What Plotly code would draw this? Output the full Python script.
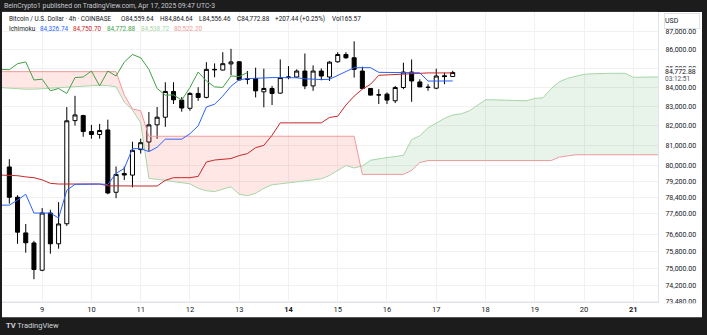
import math
import pandas as pd
import plotly.graph_objects as go

# ---------------- data ----------------
start_time = "2025-04-08 04:00"
n_slots = 81  # 56 candle slots + 25 forward cloud slots
times = pd.date_range(start_time, periods=n_slots, freq="4h")

# candles (4h) from 2025-04-08 08:00 to 2025-04-17 08:00
opens = [79910, 78410, 76680, 76200, 74910, 77640, 76160, 77120, 82260, 82520,
         81700, 81550, 81780, 78655, 79580, 79503, 80780, 81167, 82042, 82435,
         83774, 83323, 82896, 83670, 83463, 84940, 84903, 85230, 85345, 84440,
         84452, 83754, 83930, 83686, 84504, 84535, 84851, 84065, 84851, 84535,
         85345, 85734, 85558, 84851, 83930, 83600, 83634, 83287, 83982, 84798,
         84274, 84000, 83946, 84600, 84559.64]
highs = [80300, 78510, 77110, 76300, 77880, 77800, 78170, 82960, 83546, 82560,
         82040, 82093, 82310, 79933, 79933, 81182, 81333, 82706, 82963, 84258,
         84258, 83479, 83738, 83998, 85325, 85257, 85857, 86037, 85362, 84851,
         85029, 84977, 84065, 85468, 85114, 84940, 85787, 85151, 84993, 85378,
         85857, 85857, 86445, 85082, 83946, 83894, 83722, 84065, 85293, 85468,
         84415, 84154, 84977, 84767, 84864.64]
lows = [78100, 76160, 75736, 74490, 74865, 75690, 75925, 77015, 82007, 81434,
        81333, 81333, 78557, 78363, 79257, 78898, 80580, 80695, 81333, 81941,
        83117, 82721, 82772, 83287, 83411, 84520, 84888, 84625, 84362, 84154,
        83463, 82947, 83066, 83660, 84415, 84494, 83894, 83806, 84362, 84326,
        85293, 85505, 84504, 83894, 83556, 83117, 83117, 83168, 83894, 83235,
        83998, 83806, 83894, 84154, 84556.46]
closes = [78410, 76715, 76207, 74945, 77640, 76160, 77110, 82250, 82552, 81700,
          81550, 81753, 78620, 79538, 79510, 80745, 81131, 82042, 82435, 83774,
          83339, 82911, 83670, 83463, 84940, 84920, 85241, 85335, 84378, 84420,
          83806, 83930, 83670, 84504, 84535, 84851, 84065, 84851, 84588, 85325,
          85734, 85558, 84940, 83930, 83582, 83590, 83323, 83982, 84798, 84326,
          84014, 83985, 84588, 84560, 84772.88]

# Ichimoku lines
conversion = [78024, 78024, 78266, 78557, 77638, 77638, 77638, 77397, 78752, 79046,
              79061, 79061, 79061, 79040, 79587, 79834, 80830, 80830, 80680, 80900,
              81311, 81311, 81311, 81585, 81991, 82963, 83107, 83530, 84050, 84389,
              84452, 84467, 84494, 84504, 84504, 84504, 84494, 84441, 84415, 84399,
              84415, 84625, 84809, 85030, 85030, 85030, 84782, 84782, 84767, 84767,
              84767, 84756, 84320, 84320, 84320, 84326.74]
base = [79503, 79489, 79474, 79415, 79375, 79267, 79095, 79061, 79061, 79061,
        79061, 79061, 79061, 78973, 78963, 78963, 78963, 78963, 78963, 78963,
        79243, 79375, 79375, 79375, 79439, 80157, 80256, 80281, 80331, 80480,
        80580, 80880, 80995, 81509, 82144, 82144, 82144, 82144, 82144, 82144,
        82424, 82486, 83066, 83530, 83894, 84154, 84625, 84651, 84677, 84703,
        84730, 84750.7, 84750.7, 84750.7, 84750.7, 84750.7]
lagging = [84940, 84920, 85241, 85335, 84378, 84420, 83806, 83930, 83670, 84504,
           84535, 84851, 84065, 84851, 84588, 85325, 85734, 85558, 84940, 83930,
           83582, 83590, 83323, 83982, 84798, 84326, 84014, 83985, 84588, 84560,
           84772.88]
lead_a = [83972, 83946, 83894, 83894, 83894, 83920, 83946, 83972, 83998, 83998,
          84024, 84050, 84102, 84076, 84024, 83220, 82809, 82144, 79341, 79292,
          79242, 79193, 79144, 79070, 78850, 78728, 78689, 78801, 78923, 78557,
          78484, 78606, 78850, 79021, 79070, 79095, 79144, 79193, 79242, 79316,
          79488, 79735, 79983, 79859, 79958, 80246, 80331, 80381, 80430, 80495,
          81283, 81484, 81890, 82144, 82374, 82552, 82603, 82757, 83066, 83339,
          83334, 83323, 83298, 83287, 83287, 83411, 83442, 83920, 84285, 84467,
          84562, 84677, 84703, 84730, 84730, 84730, 84730, 84520, 84535, 84535,
          84538.72]
lead_b = [84819, 84819, 84819, 84819, 84819, 84819, 84819, 84819, 84819, 84819,
          84819, 84819, 84819, 84819, 84819, 83582, 82860, 82773, 81459, 81459,
          81459, 81459, 81459, 81459, 81459, 81459, 81459, 81459, 81459, 81459,
          81459, 81459, 81459, 81459, 81459, 81459, 81459, 81459, 81459, 81459,
          81459, 81459, 81459, 81459, 79538, 79538, 79538, 79538, 79538, 79538,
          79735, 80132, 80231, 80231, 80231, 80231, 80231, 80231, 80231, 80231,
          80231, 80231, 80231, 80231, 80231, 80231, 80231, 80231, 80405, 80455,
          80522.2, 80522.2, 80522.2, 80522.2, 80522.2, 80522.2, 80522.2, 80522.2, 80522.2, 80522.2,
          80522.2]

price_ticks = [87000, 86000, 85000, 84000, 83000, 82000, 81000, 80000, 79200,
               78400, 77600, 76600, 75800, 75000, 74200, 73480]
day_ticks = ["2025-04-%02d" % d for d in range(9, 22)]
day_labels = ["9", "10", "11", "12", "13", "<b>14</b>", "15", "16", "17", "18",
              "19", "20", "<b>21</b>"]

legend_values = ["84,326.74", "84,750.70", "84,772.88", "84,538.72", "80,522.20"]

# ---------------- styling ----------------
W, H = 707, 335
DARK = "#1c1c1c"
TXT = "#131722"
C_CONV = "#2962FF"
C_BASE = "#C62828"
C_LAG = "#43A047"
C_A = "#A5D6A7"
C_B = "#EF9A9A"
FILL_UP = "rgba(67,160,71,0.12)"
FILL_DN = "rgba(244,67,54,0.13)"
FONT = "Roboto"


def fx(p):
    return p / W


def fy(p):
    return 1 - p / H


def with_crossings(xs, a, b):
    X, A, B = [], [], []
    for k in range(len(xs)):
        if k > 0:
            d0 = math.log(a[k - 1]) - math.log(b[k - 1])
            d1 = math.log(a[k]) - math.log(b[k])
            if d0 * d1 < 0:
                t = d0 / (d0 - d1)
                xc = xs[k - 1] + (xs[k] - xs[k - 1]) * t
                la = math.log(a[k - 1]) + (math.log(a[k]) - math.log(a[k - 1])) * t
                X.append(xc)
                A.append(math.exp(la))
                B.append(math.exp(la))
        X.append(xs[k])
        A.append(a[k])
        B.append(b[k])
    return X, A, B


cx, ca, cb = with_crossings(list(times), lead_a, lead_b)
cmax = [max(p, q) for p, q in zip(ca, cb)]

fig = go.Figure()
nl = dict(width=0)
fig.add_trace(go.Scatter(x=cx, y=ca, mode="lines", line=nl, hoverinfo="skip", showlegend=False))
fig.add_trace(go.Scatter(x=cx, y=cmax, mode="lines", line=nl, fill="tonexty", fillcolor=FILL_DN,
                         hoverinfo="skip", showlegend=False))
fig.add_trace(go.Scatter(x=cx, y=cb, mode="lines", line=nl, hoverinfo="skip", showlegend=False))
fig.add_trace(go.Scatter(x=cx, y=cmax, mode="lines", line=nl, fill="tonexty", fillcolor=FILL_UP,
                         hoverinfo="skip", showlegend=False))
fig.add_trace(go.Scatter(x=times, y=lead_a, mode="lines", line=dict(color=C_A, width=1), showlegend=False))
fig.add_trace(go.Scatter(x=times, y=lead_b, mode="lines", line=dict(color=C_B, width=1), showlegend=False))
fig.add_trace(go.Scatter(x=times[:len(base)], y=base, mode="lines", line=dict(color=C_BASE, width=1),
                         showlegend=False))
fig.add_trace(go.Scatter(x=times[:len(conversion)], y=conversion, mode="lines",
                         line=dict(color=C_CONV, width=1), showlegend=False))
fig.add_trace(go.Scatter(x=times[:len(lagging)], y=lagging, mode="lines",
                         line=dict(color=C_LAG, width=1), showlegend=False))
fig.add_trace(go.Candlestick(
    x=times[1:1 + len(opens)], open=opens, high=highs, low=lows, close=closes,
    increasing=dict(fillcolor="#ffffff", line=dict(color="#000000", width=1)),
    decreasing=dict(fillcolor="#000000", line=dict(color="#000000", width=1)),
    whiskerwidth=0, showlegend=False, hoverinfo="skip"))

y_bottom, y_top = 73424, 88049

fig.update_layout(
    width=W, height=H, margin=dict(l=0, r=0, t=0, b=0),
    paper_bgcolor=DARK, plot_bgcolor="#ffffff",
    font=dict(family=FONT, color=TXT),
    hovermode=False, showlegend=False,
    xaxis=dict(
        domain=[fx(2), fx(658)], type="date",
        range=["2025-04-08 04:26", "2025-04-21 12:02"],
        tickvals=day_ticks, ticktext=day_labels, ticks="",
        tickfont=dict(size=7.5, color=TXT, family=FONT),
        showgrid=True, gridcolor="#f1f1f1", gridwidth=1,
        showline=True, linecolor="#e0e3eb", linewidth=1,
        zeroline=False, rangeslider=dict(visible=False), fixedrange=True,
    ),
    yaxis=dict(
        domain=[fy(305), fy(12)], type="log", side="right",
        range=[math.log10(y_bottom), math.log10(y_top)],
        tickvals=price_ticks, tickformat=",.2f", ticks="",
        tickfont=dict(size=7, color=TXT, family=FONT), ticklabelstandoff=5,
        showgrid=True, gridcolor="#f1f1f1", gridwidth=1,
        showline=True, linecolor="#e0e3eb", linewidth=1,
        zeroline=False, fixedrange=True,
    ),
)

shapes = [
    dict(type="rect", xref="paper", yref="paper", x0=fx(2), x1=fx(702), y0=fy(320), y1=fy(12),
         fillcolor="#ffffff", line=dict(width=0), layer="below"),
    dict(type="rect", xref="paper", yref="paper", x0=fx(659), x1=fx(701.5), y0=fy(319.5), y1=fy(306),
         fillcolor="#ffffff", line=dict(width=0), layer="above"),
]
fig.update_layout(shapes=shapes)

ann = []


def text(x, y, s, size=7, color=TXT, **kw):
    d = dict(x=fx(x), y=fy(y), xref="paper", yref="paper", text=s, showarrow=False,
             xanchor="left", yanchor="middle", font=dict(size=size, color=color, family=FONT))
    d.update(kw)
    ann.append(d)


LS = 6.4
text(2, 6, "BeinCrypto1 published on TradingView.com, Apr 17, 2025 09:47 UTC-3", size=6.8, color="#c8cad0")
text(7, 19.3, "Bitcoin / U.S. Dollar · 4h · COINBASE", size=LS)
text(119, 19.3, "O84,559.64", size=LS)
text(157.7, 19.3, "H84,864.64", size=LS)
text(197.3, 19.3, "L84,556.46", size=LS)
text(235, 19.3, "C84,772.88", size=LS)
text(272.7, 19.3, "+207.44 (+0.25%)", size=LS)
text(330, 19.3, "Vol165.57", size=LS)
text(7, 29.3, "Ichimoku", size=LS)
for xpos, val, col in zip([37.7, 71.3, 104.7, 138.7, 172], legend_values,
                          [C_CONV, C_BASE, C_LAG, C_A, C_B]):
    text(xpos, 29.3, val, size=LS, color=col)

# price scale currency box
ann.append(dict(x=fx(663.5), y=fy(13.5), xref="paper", yref="paper", text="USD", showarrow=False,
                xanchor="left", yanchor="top", align="left", width=34, height=14,
                bgcolor="#ffffff", bordercolor="#e0e3eb", borderwidth=1, borderpad=0,
                font=dict(size=7, color=TXT, family=FONT)))
# last price label + countdown
ann.append(dict(x=fx(664), y=fy(73.0), xref="paper", yref="paper", text="84,772.88", showarrow=False,
                xanchor="left", yanchor="middle", bgcolor="#ffffff", borderpad=0,
                font=dict(size=7, color=TXT, family=FONT)))
ann.append(dict(x=fx(664), y=fy(80.0), xref="paper", yref="paper", text="03:12:51", showarrow=False,
                xanchor="left", yanchor="middle", bgcolor="#ffffff", borderpad=0,
                font=dict(size=6.5, color="#50535e", family=FONT)))
# footer
text(4, 328, "<b>TV</b> TradingView", size=7.5, color="#d1d4dc")

fig.update_layout(annotations=ann)

fig.write_html("out.html")
